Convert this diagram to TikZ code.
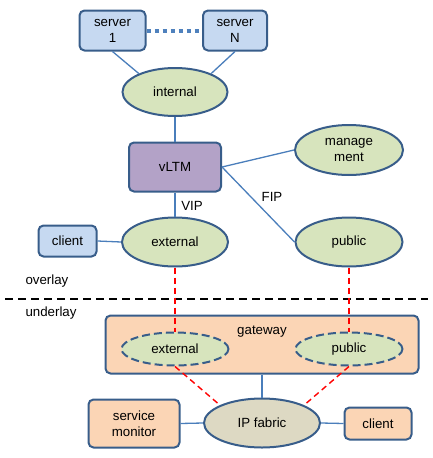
\documentclass[tikz,border=0pt]{standalone}
\usepackage{fontspec}
\setmainfont{Liberation Sans}
\usetikzlibrary{shapes.geometric}
\definecolor{bord}{HTML}{385D8A}
\definecolor{linkblue}{HTML}{4A7EBB}
\definecolor{ellfill}{HTML}{D7E4BD}
\definecolor{boxblue}{HTML}{C6D9F1}
\definecolor{purp}{HTML}{B3A2C7}
\definecolor{peach}{HTML}{FBD5B5}
\definecolor{tanfill}{HTML}{DDD9C3}
\definecolor{dotblue}{HTML}{4F81BD}
\begin{document}
\begin{tikzpicture}[x=1pt,y=-1pt,
  font=\fontsize{13.3}{16}\selectfont,
  box/.style={draw=bord, line width=2pt, rounded corners=5pt, inner sep=0pt, align=center},
  ell/.style={draw=bord, line width=2pt, ellipse, fill=ellfill, inner sep=0pt, align=center},
  link/.style={draw=linkblue, line width=1.3pt},
  reddash/.style={draw=red, line width=1.4pt, dash pattern=on 6pt off 4pt},
  ]
\useasboundingbox (0,0) rectangle (432,458);
% overlay
\node[box, fill=boxblue, minimum width=66pt, minimum height=40pt] (server1) at (112.5,30.5) {server\\1};
\node[box, fill=boxblue, minimum width=64pt, minimum height=40pt] (serverN) at (235,30.5) {server\\N};
\node[ell, minimum width=105pt, minimum height=48pt] (internal) at (175,92) {internal};
\node[box, fill=purp, minimum width=92pt, minimum height=49pt] (vltm) at (175,167) {vLTM};
\node[ell, minimum width=108pt, minimum height=50pt] (mgmt) at (349,150) {manage\\ment};
\node[ell, minimum width=106pt, minimum height=49pt] (external) at (175,242) {external};
\node[ell, minimum width=107pt, minimum height=49pt] (public) at (349,242) {public};
\node[box, fill=boxblue, minimum width=58pt, minimum height=31pt] (client1) at (67.5,241) {client};
\node (vip) at (192,206) {VIP};
\node (fip) at (272,197) {FIP};
\node[anchor=west] (overlay) at (22,281) {overlay};
\node[anchor=west] (underlay) at (22,313) {underlay};
\coordinate (dl) at (5,299);
\coordinate (dr) at (428,299);
% underlay
\node[box, fill=peach, minimum width=313pt, minimum height=58pt] (gateway) at (262,344.5) {};
\node (gwlabel) at (262,332) {gateway};
\node[ell, dash pattern=on 8pt off 4pt, minimum width=107pt, minimum height=33pt] (inext) at (175,349) {external};
\node[ell, dash pattern=on 8pt off 4pt, minimum width=107pt, minimum height=33pt] (inpub) at (349,349) {public};
\node[ell, fill=tanfill, minimum width=116pt, minimum height=49pt] (ipf) at (262,423) {IP fabric};
\node[box, fill=peach, minimum width=91pt, minimum height=48pt] (svc) at (134,423.5) {service\\monitor};
\node[box, fill=peach, minimum width=67pt, minimum height=32pt] (client2) at (378,423.5) {client};
% connectors
\draw[draw=dotblue, line width=4pt, dash pattern=on 4.5pt off 3.5pt] (server1.east) -- (serverN.west);
\draw[link] (server1.south) -- (internal.153);
\draw[link] (serverN.south) -- (internal.27);
\draw[link] (internal.south) -- (vltm.north);
\draw[link] (vltm.east) -- (mgmt.west);
\draw[link] (vltm.east) -- (public.west);
\draw[link] (vltm.south) -- (external.north);
\draw[link] (client1.east) -- (external.west);
\draw[line width=1.4pt, dash pattern=on 8pt off 5pt] (dl) -- (dr);
\draw[reddash] (external.south) -- (inext.north);
\draw[reddash] (public.south) -- (inpub.north);
\draw[reddash] (inext.south) -- (ipf.157);
\draw[reddash] (inpub.south) -- (ipf.23);
\draw[link] (gateway.south) -- (ipf.north);
\draw[link] (svc.east) -- (ipf.west);
\draw[link] (ipf.east) -- (client2.west);
\end{tikzpicture}
\end{document}
